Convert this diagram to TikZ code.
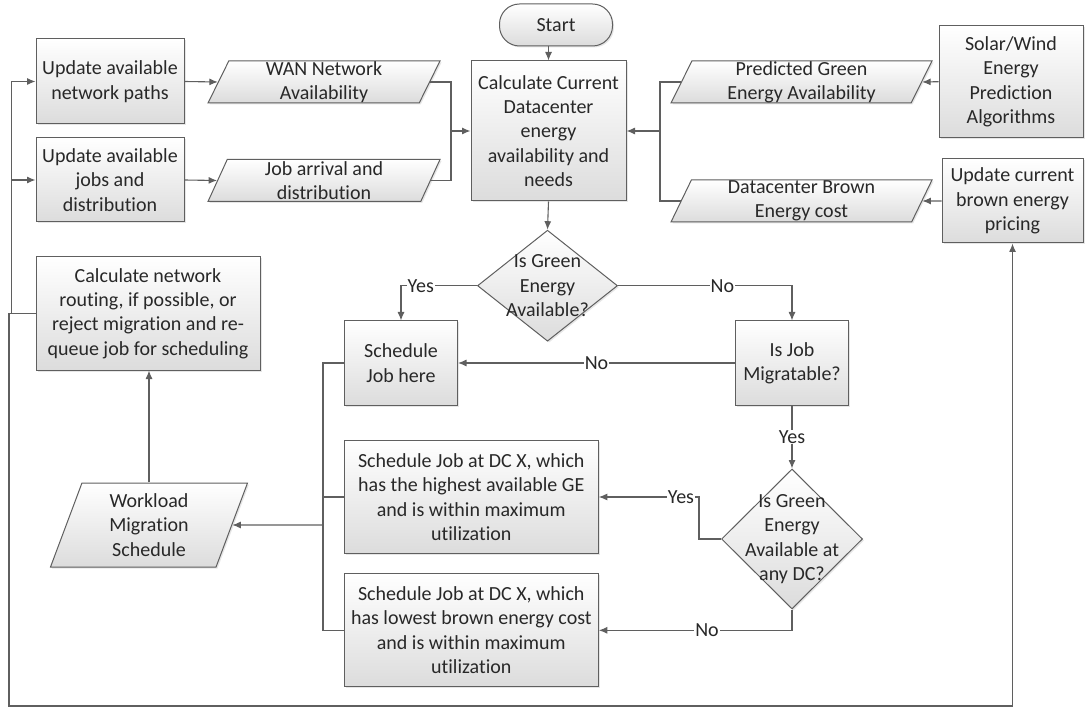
\documentclass[tikz,border=0pt]{standalone}
\usepackage{fontspec}
\setmainfont{Carlito}[Ligatures={CommonOff}]
\usepackage{tikz}
\usetikzlibrary{arrows,arrows.meta,shapes,shadows}
\definecolor{linegray}{RGB}{95,95,95}
\definecolor{fillgray}{RGB}{220,220,220}
\definecolor{textgray}{RGB}{40,40,40}
\tikzstyle{process}=[rectangle,draw=linegray,line width=1pt,top color=white,bottom color=fillgray,align=center,inner sep=2pt,drop shadow={shadow xshift=1.5pt,shadow yshift=-1.5pt,opacity=0.2}]
\tikzstyle{io}=[trapezium,trapezium left angle=63.4,trapezium right angle=116.6,trapezium stretches body,draw=linegray,line width=1pt,top color=white,bottom color=fillgray,align=center,inner xsep=2pt,inner ysep=0pt,drop shadow={shadow xshift=1.5pt,shadow yshift=-1.5pt,opacity=0.2}]
\tikzstyle{decision}=[diamond,draw=linegray,line width=1pt,top color=white,bottom color=fillgray,inner sep=0pt,drop shadow={shadow xshift=1.5pt,shadow yshift=-1.5pt,opacity=0.2}]
\tikzstyle{decisiontext}=[align=center,text=textgray]
\tikzstyle{terminal}=[rectangle,rounded corners=20pt,draw=linegray,line width=1pt,top color=white,bottom color=fillgray,drop shadow={shadow xshift=1.5pt,shadow yshift=-1.5pt,opacity=0.2}]
\tikzstyle{connector}=[draw=linegray,line width=1.1pt]
\tikzstyle{arrowline}=[connector,-{Latex[length=8.5pt,width=7pt]}]
\tikzstyle{branch}=[fill=white,inner sep=1pt,text=textgray]

\begin{document}
\begin{tikzpicture}[x=1pt,y=-1pt,font=\fontsize{20}{24.4}\selectfont,text=textgray]
        \useasboundingbox (0,0) rectangle (1086,708);
        % top row
        \node[terminal,minimum width=113,minimum height=42] (start) at (556,25) {Start};
        \node[process,minimum width=155,minimum height=140] (calc) at (548.5,131) {Calculate Current\\Datacenter\\energy\\availability and\\needs};
        \node[process,minimum width=148,minimum height=85] (paths) at (110,81.5) {Update available\\network paths};
        \node[process,minimum width=148,minimum height=84] (jobs) at (110,180) {Update available\\jobs and\\distribution};
        \node[io,minimum width=232,minimum height=42] (wan) at (324,82) {WAN Network\\Availability};
        \node[io,minimum width=232,minimum height=42] (arrival) at (324,180.5) {Job arrival and\\distribution};
        \node[io,minimum width=261,minimum height=42] (pred) at (801.5,82) {Predicted Green\\Energy Availability};
        \node[io,minimum width=261,minimum height=42] (brown) at (801.5,201) {Datacenter Brown\\Energy cost};
        \node[process,minimum width=144,minimum height=112] (solar) at (1011,81.7) {Solar/Wind\\Energy\\Prediction\\Algorithms};
        \node[process,minimum width=141,minimum height=84] (pricing) at (1012.5,201) {Update current\\brown energy\\pricing};
        % scheduling part
        \node[process,minimum width=224,minimum height=113] (routing) at (148,313.5) {Calculate network\\routing, if possible, or\\reject migration and re-\\queue job for scheduling};
        \node[decision,minimum width=140,minimum height=111,label={[decisiontext]center:Is Green\\Energy\\Available?}] (green) at (547.5,285.7) {};
        \node[process,minimum width=113,minimum height=84] (here) at (401,363) {Schedule\\Job here};
        \node[process,minimum width=113,minimum height=84] (migrate) at (792,363) {Is Job\\Migratable?};
        \node[decision,minimum width=141,minimum height=140,label={[decisiontext]center:Is Green\\Energy\\Available at\\any DC?}] (anydc) at (792,539) {};
        \node[process,minimum width=254,minimum height=113] (highge) at (471.3,497) {Schedule Job at DC X, which\\has the highest available GE\\and is within maximum\\utilization};
        \node[process,minimum width=254,minimum height=113] (lowcost) at (471.3,630.3) {Schedule Job at DC X, which\\has lowest brown energy cost\\and is within maximum\\utilization};
        \node[io,minimum width=197,minimum height=84] (workload) at (149,525) {Workload\\Migration\\Schedule};
        % inputs
        \coordinate (joinL) at (451,131);
        \coordinate (joinR) at (660,131);
        \draw[arrowline] (start.south -| calc.north) -- (calc.north);
        \draw[arrowline] (paths.east) -- (wan.west);
        \draw[arrowline] (jobs.east) -- (arrival.west);
        \draw[connector] (wan.east) -| (joinL);
        \draw[connector] (arrival.east) -| (joinL);
        \draw[arrowline] (joinL) -- (calc.west);
        \draw[connector] (pred.west) -| (joinR);
        \draw[connector] (brown.west) -| (joinR);
        \draw[arrowline] (joinR) -- (calc.east);
        \draw[arrowline] (solar.west) -- (pred.east);
        \draw[arrowline] (pricing.west) -- (brown.east);
        % decisions
        \draw[arrowline] (calc.south) -- (green.north);
        \draw[arrowline] (green.west) -| node[branch,pos=0.37] {Yes} (here.north);
        \draw[arrowline] (green.east) -| node[branch,pos=0.3] {No} (migrate.north);
        \draw[arrowline] (migrate.west) -- node[branch] {No} (here.east);
        \draw[arrowline] (migrate.south) -- node[branch] {Yes} (anydc.north);
        \draw[arrowline] (anydc.west) -- ++(-22,0) |- node[branch,pos=0.59] {Yes} (highge.east);
        \draw[arrowline] (anydc.south) |- node[branch,pos=0.72] {No} (lowcost.east);
        % outputs
        \coordinate (joinS) at (323,525);
        \draw[connector] (here.west) -| (joinS);
        \draw[connector] (highge.west) -| (joinS);
        \draw[connector] (lowcost.west) -| (joinS);
        \draw[arrowline] (joinS) -- (workload.east);
        \draw[arrowline] (workload.north) -- (workload.north |- routing.south);
        \draw[arrowline] (routing.west) -- ++(-24,0) |- (paths.west);
        \draw[arrowline] (routing.west) -- ++(-24,0) |- (jobs.west);
        \coordinate (loopL) at (9,706);
        \draw[arrowline] (routing.west) -| (loopL) -| (pricing.south);
\end{tikzpicture}
\end{document}
